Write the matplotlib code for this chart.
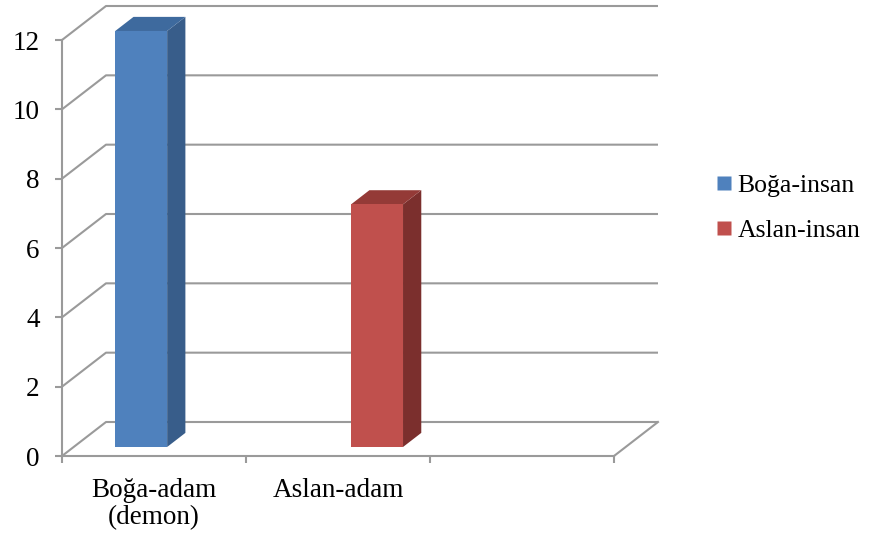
import matplotlib
matplotlib.use("Agg")
import matplotlib.pyplot as plt
from matplotlib.patches import Polygon
from matplotlib.lines import Line2D

plt.rcParams['font.family'] = ['Liberation Serif', 'DejaVu Serif']

# data
categories = ['Boğa-adam\n(demon)', 'Aslan-adam', '']
series_names = ['Boğa-insan', 'Aslan-insan']
series_values = [
    [12, 0, 0],   # Boğa-insan
    [0, 7, 0],    # Aslan-insan
]
y_ticks = [0, 2, 4, 6, 8, 10, 12]

front_colors = ['#4F81BD', '#C0504D']
side_colors = ['#385D8A', '#7B2F2D']
top_colors = ['#3E6A9E', '#943A37']
grid_col = '#9A9A9A'
fs = 19.5

fig = plt.figure(figsize=(8.7, 5.38), dpi=100)
ax = fig.add_axes([62 / 870, 82 / 538, 552 / 870, 416 / 538])
n_cat = len(categories)
ax.set_xlim(0, n_cat)
ax.set_ylim(0, 12)

# 3d depth offset, in data units (44px right, 34px up)
ddx = 44 / 552 * n_cat
ddy = 34 / 416 * 12

# back wall gridlines + left wall diagonals
for yv in y_ticks:
    ax.plot([0, ddx, n_cat + ddx], [yv, yv + ddy, yv + ddy], color=grid_col,
            lw=1.5, clip_on=False, zorder=1, solid_capstyle='butt')
# right edge of floor
ax.plot([n_cat, n_cat + ddx], [0, ddy], color=grid_col, lw=1.5, clip_on=False, zorder=1)

# bars
gap = 0.226
w = 0.282
f1, f2 = 0.265, 0.68
for i, vals in enumerate(series_values):
    for j, v in enumerate(vals):
        if v == 0:
            continue
        x0 = j + gap + i * w
        x1 = x0 + w
        a_x, a_y = f1 * ddx, f1 * ddy
        b_x, b_y = f2 * ddx, f2 * ddy
        front = [(x0 + a_x, a_y), (x1 + a_x, a_y), (x1 + a_x, v + a_y), (x0 + a_x, v + a_y)]
        side = [(x1 + a_x, a_y), (x1 + b_x, b_y), (x1 + b_x, v + b_y), (x1 + a_x, v + a_y)]
        top = [(x0 + a_x, v + a_y), (x1 + a_x, v + a_y), (x1 + b_x, v + b_y), (x0 + b_x, v + b_y)]
        for pts, c in ((side, side_colors[i]), (top, top_colors[i]), (front, front_colors[i])):
            ax.add_patch(Polygon(pts, closed=True, facecolor=c, edgecolor='none',
                                 clip_on=False, zorder=3))

# axes styling
for s in ['top', 'right']:
    ax.spines[s].set_visible(False)
for s in ['left', 'bottom']:
    ax.spines[s].set_color(grid_col)
    ax.spines[s].set_linewidth(1.5)
ax.set_yticks(y_ticks)
ax.tick_params(axis='y', colors='black', color=grid_col, length=5, width=1.5,
               pad=11, labelsize=fs)
ax.set_xticks([j + 0.5 for j in range(n_cat)])
ax.set_xticklabels(categories, fontsize=fs, linespacing=1.1)
ax.set_xticks(range(n_cat + 1), minor=True)
ax.tick_params(axis='x', which='major', length=0, pad=16)
ax.tick_params(axis='x', which='minor', color=grid_col, length=5, width=1.5)
ax.set_facecolor('none')

handles = [Line2D([], [], marker='s', linestyle='none', markersize=10,
                  markerfacecolor=c, markeredgecolor='none') for c in front_colors]
fig.legend(handles, series_names, loc='center left', bbox_to_anchor=(703 / 870, 1 - 208 / 538),
           frameon=False, fontsize=18.5, handlelength=0.6, handletextpad=0.25,
           labelspacing=0.85, borderpad=0)

fig.savefig('out.png', dpi=100)
